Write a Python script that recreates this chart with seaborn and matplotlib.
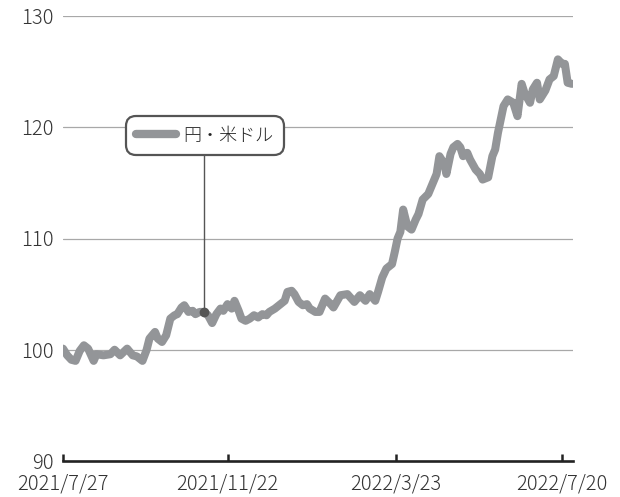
import matplotlib
matplotlib.use("Agg")
import matplotlib.pyplot as plt
import seaborn as sns
import pandas as pd
from matplotlib.lines import Line2D

dates = [
    "2021-07-27", "2021-07-30", "2021-08-02", "2021-08-05", "2021-08-08", "2021-08-11",
    "2021-08-14", "2021-08-18", "2021-08-20", "2021-08-25", "2021-08-30", "2021-09-02",
    "2021-09-06", "2021-09-11", "2021-09-15", "2021-09-18", "2021-09-22", "2021-09-25",
    "2021-09-27", "2021-10-01", "2021-10-03", "2021-10-06", "2021-10-09", "2021-10-12",
    "2021-10-15", "2021-10-17", "2021-10-20", "2021-10-22", "2021-10-25", "2021-10-28",
    "2021-10-30", "2021-11-02", "2021-11-05", "2021-11-08", "2021-11-11", "2021-11-14",
    "2021-11-17", "2021-11-19", "2021-11-22", "2021-11-25", "2021-11-27", "2021-11-30",
    "2021-12-02", "2021-12-05", "2021-12-08", "2021-12-11", "2021-12-14", "2021-12-17",
    "2021-12-20", "2021-12-22", "2021-12-26", "2021-12-30", "2022-01-02", "2022-01-04",
    "2022-01-07", "2022-01-09", "2022-01-12", "2022-01-15", "2022-01-18", "2022-01-20",
    "2022-01-24", "2022-01-27", "2022-01-31", "2022-02-04", "2022-02-06", "2022-02-11",
    "2022-02-16", "2022-02-21", "2022-02-25", "2022-03-01", "2022-03-04", "2022-03-08",
    "2022-03-10", "2022-03-13", "2022-03-16", "2022-03-20", "2022-03-22", "2022-03-24",
    "2022-03-26", "2022-03-28", "2022-03-31", "2022-04-03", "2022-04-06", "2022-04-08",
    "2022-04-11", "2022-04-15", "2022-04-18", "2022-04-21", "2022-04-23", "2022-04-25",
    "2022-04-27", "2022-04-28", "2022-05-01", "2022-05-03", "2022-05-06", "2022-05-08",
    "2022-05-10", "2022-05-13", "2022-05-15", "2022-05-19", "2022-05-22", "2022-05-24",
    "2022-05-28", "2022-05-31", "2022-06-02", "2022-06-04", "2022-06-08", "2022-06-11",
    "2022-06-15", "2022-06-18", "2022-06-21", "2022-06-23", "2022-06-27", "2022-06-29",
    "2022-07-02", "2022-07-04", "2022-07-08", "2022-07-11", "2022-07-14", "2022-07-17",
    "2022-07-20", "2022-07-22", "2022-07-24", "2022-07-27",
]
values = [
    100.1, 99.5, 99.1, 99.0, 99.9, 100.4,
    100.1, 99.0, 99.6, 99.5, 99.6, 100.0,
    99.5, 100.1, 99.5, 99.4, 99.0, 100.0,
    101.0, 101.6, 101.0, 100.7, 101.3, 102.8,
    103.1, 103.2, 103.8, 104.0, 103.4, 103.5,
    103.2, 103.4, 103.4, 103.1, 102.4, 103.2,
    103.7, 103.5, 104.1, 103.7, 104.4, 103.5,
    102.8, 102.6, 102.8, 103.1, 102.9, 103.2,
    103.1, 103.4, 103.7, 104.1, 104.4, 105.2,
    105.3, 105.0, 104.3, 104.0, 104.1, 103.7,
    103.4, 103.4, 104.6, 104.1, 103.8, 104.9,
    105.0, 104.3, 104.9, 104.4, 105.0, 104.4,
    105.2, 106.5, 107.3, 107.7, 108.8, 110.0,
    110.6, 112.6, 111.1, 110.8, 111.7, 112.2,
    113.5, 114.0, 114.9, 115.8, 117.4, 117.0,
    116.5, 115.8, 117.6, 118.2, 118.5, 118.2,
    117.4, 117.7, 117.1, 116.2, 115.8, 115.3,
    115.5, 117.4, 118.0, 119.5, 121.9, 122.5,
    122.2, 121.0, 123.9, 123.1, 122.2, 123.4,
    124.0, 122.5, 123.3, 124.3, 124.6, 126.1,
    125.7, 125.7, 124.0, 123.9,
]
series_name = "円・米ドル"
tick_dates = ["2021-07-27", "2021-11-22", "2022-03-23", "2022-07-20"]
tick_labels = ["2021/7/27", "2021/11/22", "2022/3/23", "2022/7/20"]
y_ticks = [90, 100, 110, 120, 130]
callout_date = "2021-11-05"
callout_value = 103.4

sns.set_style("white")
plt.rcParams["font.family"] = ["Noto Sans CJK JP", "DejaVu Sans"]
plt.rcParams["font.weight"] = "light"

df = pd.DataFrame({"date": pd.to_datetime(dates), "value": values, "series": series_name})

fig = plt.figure(figsize=(6.2, 4.97), dpi=100)
ax = fig.add_axes([63 / 620, 1 - 461 / 497, 510 / 620, 445 / 497])

line_color = "#939598"
dark = "#555555"

for yv in y_ticks[1:]:
    ax.axhline(yv, color="#a8a8a8", lw=0.9, zorder=1)

sns.lineplot(data=df, x="date", y="value", hue="series", palette=[line_color],
             lw=5.8, ax=ax, zorder=3, legend=False)
ax.lines[-1].set_solid_capstyle("round")
ax.lines[-1].set_solid_joinstyle("round")

ax.set_ylim(90, 130)
ax.set_xlim(pd.Timestamp("2021-07-27"), pd.Timestamp("2022-07-27 20:00"))
ax.set_yticks(y_ticks)
ax.set_xticks(pd.to_datetime(tick_dates))
ax.set_xticklabels(tick_labels)
ax.set_xlabel("")
ax.set_ylabel("")

for s in ["left", "right", "top"]:
    ax.spines[s].set_visible(False)
ax.spines["bottom"].set_color("#222222")
ax.spines["bottom"].set_linewidth(1.9)
ax.spines["bottom"].set_zorder(5)

ax.tick_params(axis="x", bottom=True, direction="in", length=5, width=1.8,
               color="#222222", pad=9, labelsize=14.5, labelcolor="#333333")
ax.tick_params(axis="y", left=False, length=0, pad=7, labelsize=14.5, labelcolor="#333333")

# callout from legend box to point
cd = pd.Timestamp(callout_date)
ax.plot([cd, cd], [callout_value, 117.6], color=dark, lw=1.0, zorder=4)
ax.plot([cd], [callout_value], marker="o", ms=6, color=dark, zorder=6)

handle = Line2D([0], [0], color=line_color, lw=6, solid_capstyle="round")
leg = ax.legend([handle], [series_name], loc="center",
                bbox_to_anchor=((205 - 63) / 510, (461 - 135.5) / 445),
                bbox_transform=ax.transAxes, fontsize=13, frameon=True,
                fancybox=True, handlelength=2.2, handletextpad=0.4,
                borderpad=0.4, framealpha=1)
leg.get_frame().set_edgecolor(dark)
leg.get_frame().set_linewidth(1.6)
leg.get_frame().set_boxstyle("round,pad=0.2,rounding_size=0.6")
leg.set_zorder(7)
for t in leg.get_texts():
    t.set_color("#222222")

fig.savefig("out.png", dpi=100)
